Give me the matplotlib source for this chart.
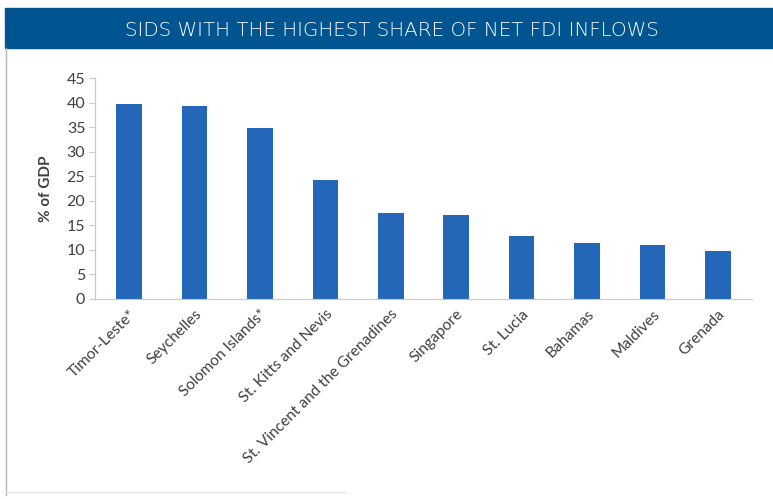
"""SIDS with the highest share of net FDI inflows (% of GDP)."""

import matplotlib

matplotlib.use("Agg")
import matplotlib.pyplot as plt
from matplotlib.patches import Rectangle
from matplotlib.lines import Line2D

countries = [
    "Timor-Leste*", "Seychelles", "Solomon Islands*", "St. Kitts and Nevis",
    "St. Vincent and the Grenadines", "Singapore", "St. Lucia", "Bahamas",
    "Maldives", "Grenada",
]
fdi_share = [39.8, 39.3, 34.9, 24.3, 17.6, 17.1, 12.9, 11.4, 11.0, 9.8]
y_ticks = [0, 5, 10, 15, 20, 25, 30, 35, 40, 45]

title = "SIDS WITH THE HIGHEST SHARE OF NET FDI INFLOWS"
BANNER = "#00548f"
BAR = "#2467b8"
TEXT = "#404040"

fig = plt.figure(figsize=(7.73, 4.99), dpi=100)

# banner and frame
fig.patches.append(Rectangle((5 / 773, 1 - 48 / 499), 1, 40 / 499,
                             transform=fig.transFigure, color=BANNER, zorder=0))
fig.text(392 / 773, 1 - 30 / 499, title, color="white", fontsize=14.3,
         family="DejaVu Sans", fontweight="light", ha="center", va="center")
fig.lines.append(Line2D([5.5 / 773, 5.5 / 773], [1 - 48 / 499, 1 - 495 / 499],
                        transform=fig.transFigure, color="#b5b5b5", lw=1))
fig.lines.append(Line2D([5.5 / 773, 345 / 773], [1 - 492 / 499, 1 - 492 / 499],
                        transform=fig.transFigure, color="#e6e6e6", lw=1))

ax = fig.add_axes([95 / 773, 1 - 299 / 499, 657 / 773, 221 / 499])
x = range(len(countries))
ax.bar(x, fdi_share, width=0.39, color=BAR, zorder=2)

ax.set_xlim(-0.52, 9.52)
ax.set_ylim(0, 45)
ax.set_yticks(y_ticks)
ax.set_xticks(list(x))
ax.set_xticklabels(countries, rotation=45, ha="right", rotation_mode="anchor",
                   fontsize=11.2, family="Lato", color=TEXT)
ax.tick_params(axis="x", length=0, pad=6)
ax.tick_params(axis="y", length=4, color="#c8c8c8", labelsize=11.5,
               labelcolor=TEXT, pad=3)
for lab in ax.get_yticklabels():
    lab.set_family("Lato")
ax.set_ylabel("% of GDP", fontsize=11, fontweight="bold", family="Lato",
              color=TEXT, labelpad=10)

for side in ("top", "right"):
    ax.spines[side].set_visible(False)
ax.spines["left"].set_color("#c8c8c8")
ax.spines["bottom"].set_color("#d8c8b0")

fig.savefig("out.png", dpi=100)
